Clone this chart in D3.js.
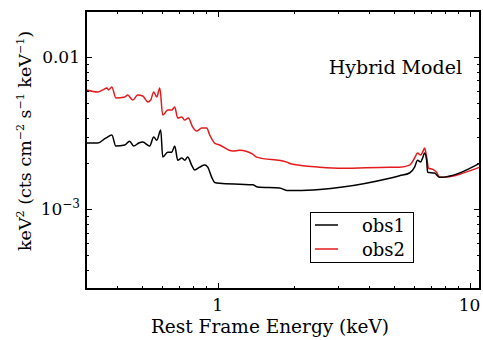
<!DOCTYPE html>
<html><head><meta charset="utf-8">
<script src="https://cdn.jsdelivr.net/npm/d3@7"></script>
<style>body{margin:0;background:#fff}svg{display:block}text{font-family:"DejaVu Serif",serif;fill:#000}</style>
</head><body>
<svg id="c" width="483" height="340"></svg>
<script>
// Data
const obs1E = [0.302,0.334,0.359,0.380,0.394,0.428,0.447,0.464,0.486,0.504,0.537,0.557,0.573,0.594,0.605,0.633,0.657,0.675,0.694,0.720,0.740,0.760,0.788,0.810,0.848,0.888,0.913,0.947,0.973,1.018,1.223,1.377,1.441,1.762,1.879,2.058,2.540,3.133,4.815,5.275,5.781,6.049,6.218,6.392,6.510,6.630,6.752,6.813,7.263,7.603,11.0];
const obs1V = [0.00272,0.00272,0.00293,0.00307,0.00260,0.00264,0.00280,0.00260,0.00272,0.00276,0.00260,0.00298,0.00284,0.00331,0.00220,0.00237,0.00237,0.00260,0.00210,0.00217,0.00210,0.00220,0.00195,0.00181,0.00189,0.00195,0.00189,0.00162,0.00150,0.00148,0.00146,0.00145,0.00140,0.00138,0.00133,0.00133,0.00135,0.00140,0.00160,0.00166,0.00173,0.00189,0.00210,0.00204,0.00217,0.00234,0.00210,0.00175,0.00173,0.00162,0.00201];
const obs2E = [0.302,0.334,0.350,0.363,0.369,0.380,0.394,0.428,0.439,0.460,0.481,0.504,0.528,0.542,0.557,0.573,0.589,0.605,0.633,0.657,0.675,0.694,0.720,0.740,0.764,0.796,0.825,0.864,0.904,0.930,0.973,1.018,1.147,1.223,1.377,1.428,1.879,1.966,2.540,3.133,4.815,5.275,5.781,6.049,6.218,6.392,6.510,6.630,6.752,6.876,7.132,7.396,7.603,11.0];
const obs2V = [0.00607,0.00589,0.00607,0.00625,0.00607,0.00635,0.00538,0.00546,0.00562,0.00521,0.00562,0.00554,0.00506,0.00521,0.00589,0.00546,0.00625,0.00415,0.00448,0.00448,0.00469,0.00397,0.00403,0.00385,0.00397,0.00346,0.00326,0.00341,0.00341,0.00307,0.00272,0.00264,0.00241,0.00244,0.00230,0.00220,0.00204,0.00198,0.00189,0.00186,0.00189,0.00189,0.00195,0.00217,0.00234,0.00227,0.00237,0.00252,0.00220,0.00186,0.00183,0.00175,0.00162,0.00189];
const seriesNames = ["obs1","obs2"];
const seriesColors = ["#000000","#e41a1c"];
const xDomain = [0.3, 11];
const yDomain = [3e-4, 0.02];
const xMajor = [1, 10];
const xMinor = [0.3,0.4,0.5,0.6,0.7,0.8,0.9,2,3,4,5,6,7,8,9];
const yMajor = [0.001, 0.01];
const yMinor = [3e-4,4e-4,5e-4,6e-4,7e-4,8e-4,9e-4,2e-3,3e-3,4e-3,5e-3,6e-3,7e-3,8e-3,9e-3];

const svg = d3.select("#c");
const L=86, R=480, T=11, B=289;
const x = d3.scaleLog().domain(xDomain).range([L,R]);
const y = d3.scaleLog().domain(yDomain).range([B,T]);

const line = d3.line().x(d=>x(d[0])).y(d=>y(d[1])).curve(d3.curveMonotoneX);
const series = [d3.zip(obs1E,obs1V), d3.zip(obs2E,obs2V)];
[1,0].forEach(i=>{
  svg.append("path").datum(series[i]).attr("d",line)
    .attr("fill","none").attr("stroke",seriesColors[i]).attr("stroke-width",1.5)
    .attr("stroke-linejoin","round");
});

// ticks (inward, all four sides)
const tk = svg.append("g").attr("stroke","#000").attr("stroke-width",1);
function xt(vals,len){vals.forEach(v=>{const px=Math.round(x(v))+0.5;
  tk.append("line").attr("x1",px).attr("x2",px).attr("y1",B).attr("y2",B-len);
  tk.append("line").attr("x1",px).attr("x2",px).attr("y1",T).attr("y2",T+len);});}
function yt(vals,len){vals.forEach(v=>{const py=Math.round(y(v))+0.5;
  tk.append("line").attr("x1",L).attr("x2",L+len).attr("y1",py).attr("y2",py);
  tk.append("line").attr("x1",R).attr("x2",R-len).attr("y1",py).attr("y2",py);});}
xt(xMajor,6); xt(xMinor,3); yt(yMajor,6); yt(yMinor,3);

svg.append("rect").attr("x",L).attr("y",T).attr("width",R-L).attr("height",B-T)
  .attr("fill","none").attr("stroke","#000").attr("stroke-width",2);

// tick labels
const fs=17;
svg.append("text").attr("x",x(1)).attr("y",B+22).attr("text-anchor","middle").attr("font-size",fs).text("1");
svg.append("text").attr("x",x(10)).attr("y",B+22).attr("text-anchor","middle").attr("font-size",fs).text("10");
svg.append("text").attr("x",L-6).attr("y",y(0.01)+6).attr("text-anchor","end").attr("font-size",fs).text("0.01");
const t3 = svg.append("text").attr("x",L-6).attr("y",y(0.001)+6).attr("text-anchor","end").attr("font-size",fs);
t3.append("tspan").text("10");
t3.append("tspan").attr("dy",-7).attr("font-size",12).text("\u22123");

// axis labels
svg.append("text").attr("x",270).attr("y",333).attr("text-anchor","middle").attr("font-size",18.5).text("Rest Frame Energy (keV)");
const yl = svg.append("text").attr("transform","translate(31,141) rotate(-90)").attr("text-anchor","middle").attr("font-size",17.5);
yl.append("tspan").text("keV");
yl.append("tspan").attr("dy",-7).attr("font-size",11).text("2");
yl.append("tspan").attr("dy",7).text(" (cts cm");
yl.append("tspan").attr("dy",-7).attr("font-size",11).text("\u22122");
yl.append("tspan").attr("dy",7).text(" s");
yl.append("tspan").attr("dy",-7).attr("font-size",11).text("\u22121");
yl.append("tspan").attr("dy",7).text(" keV");
yl.append("tspan").attr("dy",-7).attr("font-size",11).text("\u22121");
yl.append("tspan").attr("dy",7).text(")");

svg.append("text").attr("x",462).attr("y",74).attr("text-anchor","end").attr("font-size",19).text("Hybrid Model");

// legend
const lg = svg.append("g");
lg.append("rect").attr("x",310.5).attr("y",212.5).attr("width",103).attr("height",50).attr("fill","#fff").attr("stroke","#000").attr("stroke-width",1);
seriesNames.forEach((n,i)=>{
  const yy = 225 + i*24;
  lg.append("line").attr("x1",315).attr("x2",338).attr("y1",yy).attr("y2",yy).attr("stroke",seriesColors[i]).attr("stroke-width",1.5);
  lg.append("text").attr("x",405).attr("y",yy+7).attr("text-anchor","end").attr("font-size",18).text(n);
});
</script>
</body></html>
